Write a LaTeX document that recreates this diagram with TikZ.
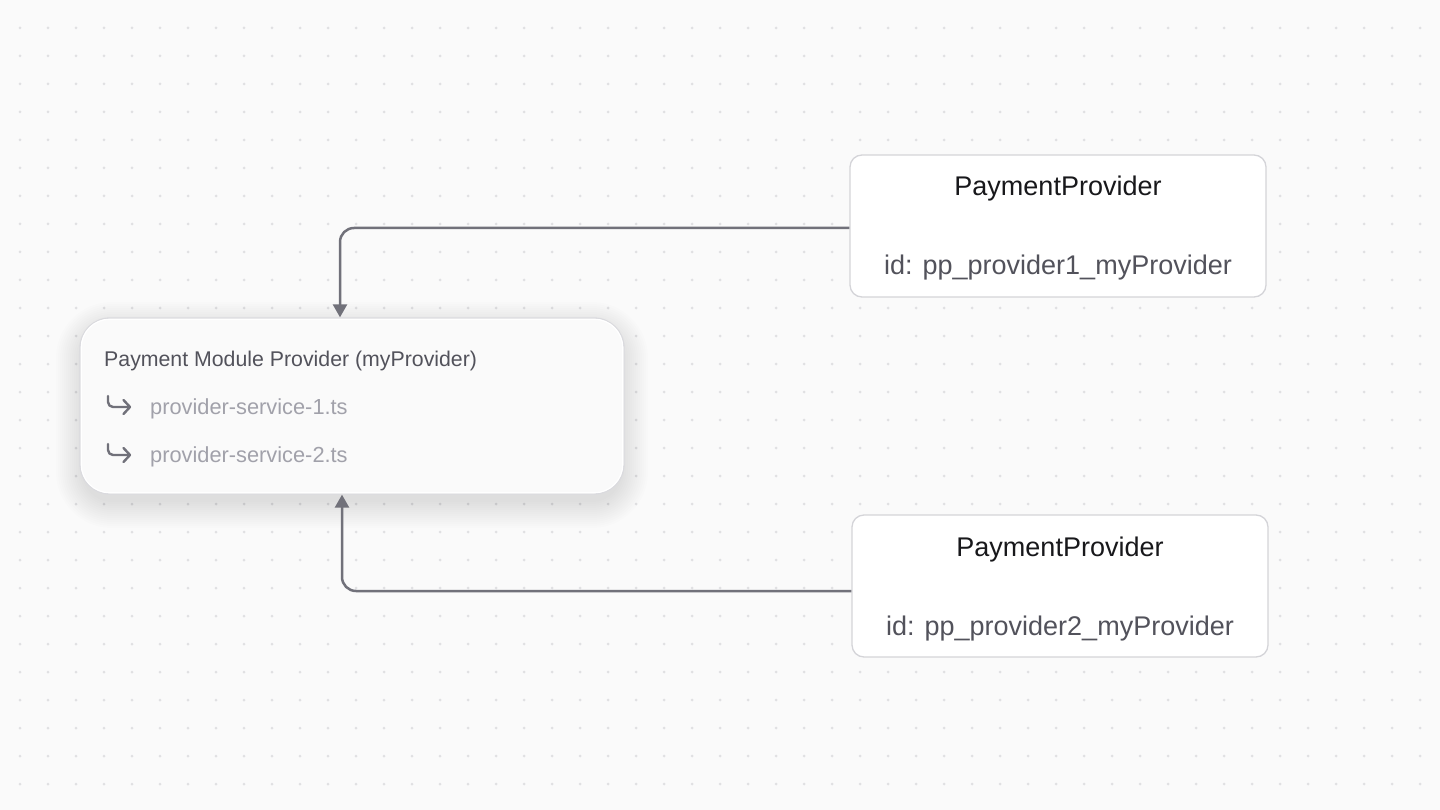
\documentclass[tikz,border=0pt]{standalone}
\usepackage{fontspec}
\setmainfont{Liberation Sans}
\usetikzlibrary{arrows.meta}
\definecolor{bg}{HTML}{FAFAFA}
\definecolor{dotc}{HTML}{E0E0E2}
\definecolor{conn}{HTML}{71717A}
\definecolor{boxborder}{HTML}{D4D4D8}
\definecolor{pmborder}{HTML}{DADADE}
\definecolor{txtdark}{HTML}{18181B}
\definecolor{txtmid}{HTML}{52525B}
\definecolor{txtlight}{HTML}{A1A1AA}
\tikzset{
  connline/.style={draw=conn, line width=2.5pt, rounded corners=14pt, -{Triangle[length=13pt,width=14pt]}},
  ppbox/.style={draw=boxborder, fill=white, line width=1.3pt, rounded corners=12pt, minimum width=416pt, minimum height=142pt, inner sep=0pt},
  pmbox/.style={draw=pmborder, fill=bg, line width=1.3pt, rounded corners=30pt, minimum width=544pt, minimum height=176pt, inner sep=0pt},
  shadowlayer/.style={fill=black, fill opacity=0.008},
  pptitle/.style={anchor=base, text=txtdark, font=\fontsize{27}{30}\selectfont, inner sep=0pt},
  ppid/.style={anchor=base, text=txtmid, font=\fontsize{27}{30}\selectfont, inner sep=0pt},
  pmtitle/.style={anchor=base west, text=txtmid, font=\fontsize{21.3}{24}\selectfont, inner sep=0pt},
  pmitem/.style={anchor=base west, text=txtlight, font=\fontsize{21.8}{24}\selectfont, inner sep=0pt},
  itemicon/.style={draw=conn, line width=2.4pt, line cap=round, line join=round},
}
\begin{document}
\begin{tikzpicture}[x=1pt,y=-1pt]
\fill[bg] (0,0) rectangle (1440,810);
\useasboundingbox (0,0) rectangle (1440,810);
\foreach \x in {20,48,...,1420} {
  \foreach \y in {28,56,...,784} {
    \fill[dotc] (\x,\y) circle (1.5pt);
  }
}
% soft shadow of the module box
\foreach \e in {0,2,...,26} {
  \fill[shadowlayer, rounded corners=30pt+\e pt] (82-\e,328-\e) rectangle (622+\e,502+\e);
}
% left module box
\node[pmbox] (pmp) at (352,406) {};
\draw[white, line width=1.2pt, rounded corners=28pt] ([shift={(2pt,-2pt)}]pmp.north west) rectangle ([shift={(-2pt,2pt)}]pmp.south east);
\node[pmtitle] (pmt) at (104,366) {Payment Module Provider (myProvider)};
\node[pmitem] (it1) at (150,414) {provider-service-1.ts};
\node[pmitem] (it2) at (150,462) {provider-service-2.ts};
% item icons
\foreach \yy in {0,48} {
  \draw[itemicon, rounded corners=5pt] (108,396+\yy) -- (108,407+\yy) -- (130,407+\yy);
  \draw[itemicon] (123.5,400+\yy) -- (130,407+\yy) -- (123.5,414+\yy);
}
% right boxes
\node[ppbox] (pp1) at (1058,226) {};
\node[pptitle] (pp1t) at (1058,196) {PaymentProvider};
\node[ppid] (pp1i) at (1058,275) {id: pp\_provider1\_myProvider};
\node[ppbox] (pp2) at (1060,586) {};
\node[pptitle] (pp2t) at (1060,556) {PaymentProvider};
\node[ppid] (pp2i) at (1060,635) {id: pp\_provider2\_myProvider};
% connectors
\draw[connline] ([yshift=-2pt]pp1.west) -| ([xshift=-12pt]pmp.north);
\draw[connline] ([yshift=-5pt]pp2.west) -| ([xshift=-10pt]pmp.south);
\end{tikzpicture}
\end{document}
